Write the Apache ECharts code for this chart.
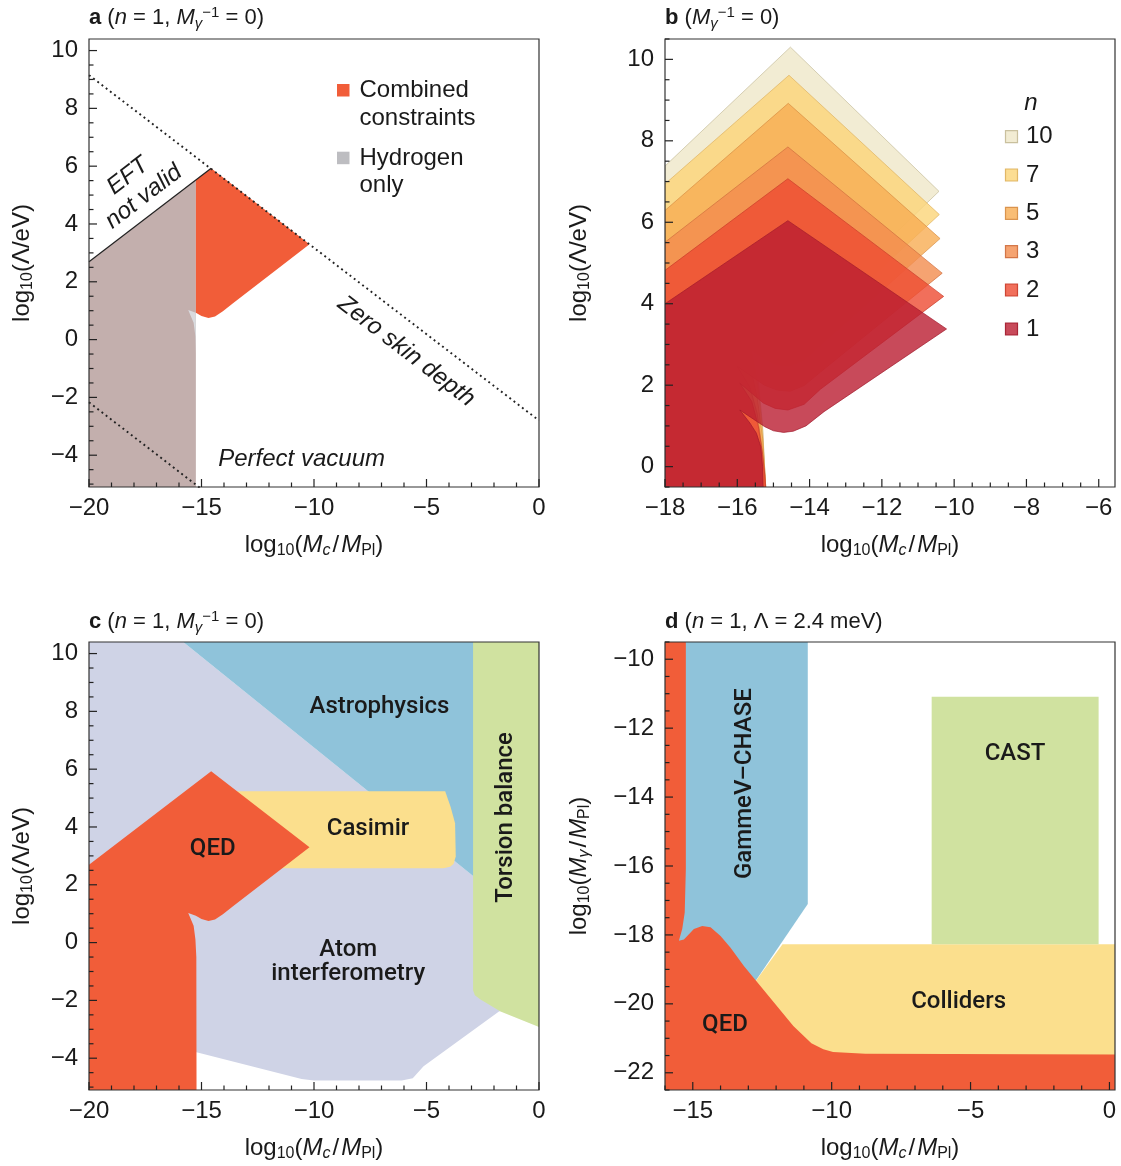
<!DOCTYPE html>
<html>
<head>
<meta charset="utf-8">
<script src="https://cdn.jsdelivr.net/npm/echarts@6/dist/echarts.min.js"></script>
<style>
  html, body { margin: 0; padding: 0; background: #ffffff; }
  #chart { width: 1121px; height: 1166px; }
</style>
</head>
<body>
<div id="chart"></div>
<script>
const FONT = '"Liberation Sans", Arial, Helvetica, sans-serif';
const LABEL_FONT = 'Roboto, "Liberation Sans", Arial, sans-serif';
const INK = '#1a1a1a';

// ---------- axis extents ----------
const aX = [-20, 0],      aY = [-5.1, 10.4];
const bX = [-18, -5.55],  bY = [-0.5, 10.5];
const cX = [-20, 0],      cY = [-5.1, 10.4];
const dX = [-16, 0.2],    dY = [-22.5, -9.5];

// ---------- labelled ticks ----------
const aXTicks = [-20, -15, -10, -5, 0];
const aYTicks = [-4, -2, 0, 2, 4, 6, 8, 10];
const bXTicks = [-18, -16, -14, -12, -10, -8, -6];
const bYTicks = [0, 2, 4, 6, 8, 10];
const cXTicks = [-20, -15, -10, -5, 0];
const cYTicks = [-4, -2, 0, 2, 4, 6, 8, 10];
const dXTicks = [-15, -10, -5, 0];
const dYTicks = [-22, -20, -18, -16, -14, -12, -10];
// spacing of the small unlabelled ticks
const aMinorStep = [1, 0.5], bMinorStep = [0.5, 0.5], cMinorStep = [1, 0.5], dMinorStep = [1, 0.5];

// ---------- panel a: hydrogen vs combined constraints ----------
const hydrogenOnly = [[-20, -5.3], [-20, 2.69], [-15.25, 5.53], [-15.25, -5.3]];
const combinedConstraints = [[-15.25, 5.53], [-14.57, 5.93], [-10.2, 3.3], [-13.6, 1.26], [-14.05, 0.98],
  [-14.4, 0.8], [-14.69, 0.75], [-15.0, 0.82], [-15.25, 0.93]];
const hydrogenCusp = [[-15.25, 0.93], [-15.59, 1.02], [-15.35, 0.58], [-15.27, 0.11], [-15.25, -0.5]];
const eftBoundary = [[-20, 2.69], [-14.57, 5.93]];
const skinDepthLine = [[-20, 9.15], [0, -2.8]];
const vacuumLine = [[-20, -2.17], [-15.0, -5.17]];

// ---------- panel b: excluded regions for several n ----------
const bLegendNames = ['10', '7', '5', '3', '2', '1'];
const regionN10 = [[-18, -0.7], [-18, 7.38], [-14.53, 10.30], [-10.42, 6.76], [-13.7, 3.95], [-14.15, 3.57],
  [-14.55, 3.42], [-14.9, 3.45], [-15.25, 3.6], [-16.0, 4.05], [-15.65, 3.4], [-15.45, 2.4], [-15.3, 1.0],
  [-15.24, -0.1], [-15.2, -0.7]];
const regionN7 = [[-18, -0.7], [-18, 6.94], [-14.57, 9.61], [-10.41, 6.19], [-13.7, 3.49], [-14.15, 3.13],
  [-14.55, 2.98], [-14.9, 3.01], [-15.25, 3.15], [-16.0, 3.6], [-15.65, 3.0], [-15.45, 2.1], [-15.3, 0.9],
  [-15.24, -0.1], [-15.2, -0.7]];
const regionN5 = [[-18, -0.7], [-18, 6.29], [-14.59, 8.92], [-10.39, 5.6], [-13.7, 2.98], [-14.15, 2.62],
  [-14.55, 2.47], [-14.9, 2.5], [-15.25, 2.65], [-16.0, 3.1], [-15.65, 2.5], [-15.45, 1.7], [-15.3, 0.7],
  [-15.24, -0.1], [-15.2, -0.7]];
const regionN3 = [[-18, -0.7], [-18, 5.51], [-14.6, 7.85], [-10.33, 4.75], [-13.7, 2.32], [-14.15, 1.99],
  [-14.54, 1.85], [-14.9, 1.88], [-15.25, 2.0], [-16.0, 2.46], [-15.65, 1.95], [-15.45, 1.3], [-15.32, 0.5],
  [-15.25, -0.1], [-15.2, -0.7]];
const regionN2 = [[-18, -0.7], [-18, 4.82], [-14.6, 7.07], [-10.29, 4.18], [-13.7, 1.9], [-14.15, 1.53],
  [-14.6, 1.39], [-14.95, 1.43], [-15.28, 1.56], [-15.93, 2.05], [-15.6, 1.6], [-15.42, 1.0], [-15.3, 0.3],
  [-15.24, -0.2], [-15.2, -0.7]];
const regionN1 = [[-18, -0.7], [-18, 4.0], [-14.6, 6.04], [-10.21, 3.38], [-13.6, 1.35], [-14.1, 1.0],
  [-14.45, 0.87], [-14.72, 0.84], [-15.0, 0.88], [-15.24, 0.98], [-15.93, 1.39], [-15.65, 1.07],
  [-15.47, 0.82], [-15.35, 0.49], [-15.3, 0.0], [-15.28, -0.7]];

// ---------- panel c: individual experiments ----------
const atomInterferometry = [[-20.2, 10.6], [-16.13, 10.6], [-2.8, 2.23], [-1.6, 1.5], [-1.6, -2.35],
  [-1.78, -2.38], [-5.13, -4.28], [-5.61, -4.69], [-6.1, -4.77], [-10.0, -4.77], [-10.55, -4.72],
  [-15.22, -3.79], [-20.2, -3.79]];
const astrophysics = [[-16.13, 10.6], [-2.5, 10.6], [-2.5, 2.04]];
const casimir = [[-14.5, 5.24], [-4.17, 5.24], [-3.93, 4.7], [-3.73, 4.13], [-3.7, 2.98], [-3.8, 2.72],
  [-3.95, 2.62], [-4.25, 2.57], [-14.5, 2.57]];
const qedC = [[-20.2, -5.3], [-20.2, 2.57], [-20, 2.69], [-14.57, 5.93], [-10.2, 3.3], [-13.6, 1.26],
  [-14.05, 0.98], [-14.4, 0.8], [-14.69, 0.75], [-15.0, 0.82], [-15.25, 0.93], [-15.59, 1.02],
  [-15.35, 0.58], [-15.27, 0.11], [-15.23, -0.5], [-15.22, -5.3]];
const torsionBalance = [[-2.93, 10.6], [0.2, 10.6], [0.2, -3.0], [0, -2.92], [-1.71, -2.38], [-2.6, -1.97],
  [-2.85, -1.82], [-2.93, -1.65]];

// ---------- panel d: photon coupling plane ----------
const gammevChase = [[-15.5, -9.3], [-10.86, -9.3], [-10.86, -17.1], [-12.74, -19.34], [-14.6, -19.0],
  [-15.5, -18.5]];
const colliders = [[-11.77, -18.27], [0.3, -18.27], [0.3, -21.6], [-13.2, -21.6], [-13.2, -19.85]];
const cast = [[-6.4, -11.09], [-0.39, -11.09], [-0.39, -18.27], [-6.4, -18.27]];
const qedD = [[-16.2, -9.3], [-15.25, -9.3], [-15.25, -16.1], [-15.29, -17.35], [-15.38, -17.83],
  [-15.5, -18.17], [-15.32, -18.13], [-14.96, -17.83], [-14.66, -17.74], [-14.36, -17.78], [-14.0, -18.03],
  [-13.64, -18.37], [-13.16, -18.9], [-12.67, -19.38], [-11.38, -20.64], [-10.73, -21.14], [-10.3, -21.32],
  [-9.95, -21.4], [-8.79, -21.45], [0.3, -21.47], [0.3, -22.7], [-16.2, -22.7]];

// ---------- in-plot annotations: [text, x, y] ----------
const aLabels = [['EFT\nnot valid', -17.92, 5.30], ['Zero skin depth', -5.9, -0.41], ['Perfect vacuum', -10.55, -4.13]];
const cLabels = [['Astrophysics', -7.09, 8.15], ['Casimir', -7.6, 3.93], ['QED', -14.5, 3.24],
  ['Atom\ninterferometry', -8.48, -0.67], ['Torsion balance', -1.46, 4.33]];
const dLabels = [['GammeV\u2013CHASE', -13.13, -13.61], ['CAST', -3.4, -12.75], ['Colliders', -5.43, -19.95],
  ['QED', -13.84, -20.62]];

// text styling for the annotations
const labelStyle = {
  'EFT\nnot valid': { rot: 0.655, italic: true, lh: 26, font: FONT },
  'Zero skin depth': { rot: -0.655, italic: true, font: FONT },
  'Perfect vacuum': { italic: true, font: FONT },
  'Torsion balance': { rot: Math.PI / 2 },
  'GammeV\u2013CHASE': { rot: Math.PI / 2 },
  'Atom\ninterferometry': { lh: 24 }
};

// ---------- colours ----------
const ORANGE = '#f15d39';
const HYDRO = '#c3afad';
const CUSP = '#d9dbdf';
const LAVENDER = '#cfd3e6';
const BLUE = '#8fc3da';
const YELLOW = '#fbdf8d';
const GREEN = '#d0e2a0';
const TICK = '#222222';
// panel b layers: base colour, drawn at 80 % opacity
const layerRGB = {
  '10': [239, 231, 200], '7': [251, 212, 120], '5': [247, 172, 82],
  '3': [243, 140, 77], '2': [237, 75, 50], '1': [186, 29, 49]
};
const layerEdge = {
  '10': [196, 186, 150], '7': [222, 176, 92], '5': [214, 140, 66],
  '3': [206, 108, 60], '2': [200, 58, 40], '1': [160, 24, 42]
};
const rgba = (c, a) => `rgba(${c[0]},${c[1]},${c[2]},${a})`;

// ---------- helpers ----------
const fmt = v => String(v).replace('-', '\u2212');

function minorValues(range, step, majors) {
  const out = [];
  const start = Math.ceil(range[0] / step - 1e-9) * step;
  for (let k = 0; start + k * step <= range[1] + 1e-9; k++) {
    const v = Math.round((start + k * step) * 1000) / 1000;
    if (!majors.some(m => Math.abs(m - v) < 1e-6)) out.push(v);
  }
  return out;
}

const RICH_AXIS = {
  t: { fontFamily: FONT, fontSize: 24, fontWeight: 'normal', color: INK, lineHeight: 28 },
  i: { fontFamily: FONT, fontSize: 24, fontWeight: 'normal', color: INK, fontStyle: 'italic', lineHeight: 28 },
  sl: { fontFamily: FONT, fontSize: 24, fontWeight: 'normal', color: INK, lineHeight: 28, padding: [0, 2, 0, 2] },
  s: { fontFamily: FONT, fontSize: 16, fontWeight: 'normal', color: INK, verticalAlign: 'bottom', lineHeight: 12 },
  is: { fontFamily: FONT, fontSize: 16, fontWeight: 'normal', color: INK, fontStyle: 'italic', verticalAlign: 'bottom', lineHeight: 12 }
};
const RICH_TITLE = {
  b: { fontFamily: FONT, fontSize: 22, fontWeight: 'bold', color: INK, lineHeight: 26 },
  t: { fontFamily: FONT, fontSize: 22, fontWeight: 'normal', color: INK, lineHeight: 26 },
  i: { fontFamily: FONT, fontSize: 22, fontWeight: 'normal', color: INK, fontStyle: 'italic', lineHeight: 26 },
  is: { fontFamily: FONT, fontSize: 15, fontWeight: 'normal', color: INK, fontStyle: 'italic', verticalAlign: 'bottom', lineHeight: 10 },
  sup: { fontFamily: FONT, fontSize: 15, fontWeight: 'normal', color: INK, verticalAlign: 'top', lineHeight: 10 }
};

const X_NAME = '{t|log}{s|10}{t|(}{i|M}{is|c}{sl|/}{i|M}{s|Pl}{t|)}';
const Y_NAME_LAMBDA = '{t|log}{s|10}{t|(\u039b/eV)}';
const Y_NAME_GAMMA = '{t|log}{s|10}{t|(}{i|M}{is|\u03b3}{sl|/}{i|M}{s|Pl}{t|)}';

const grids = [
  { left: 89, top: 39, width: 450, height: 448 },
  { left: 665, top: 39, width: 450, height: 448 },
  { left: 89, top: 642, width: 450, height: 448 },
  { left: 665, top: 642, width: 450, height: 448 }
];

function mainAxis(dir, gi, range, tickVals, name, gap) {
  return {
    type: 'value', gridIndex: gi, min: range[0], max: range[1],
    position: dir === 'x' ? 'bottom' : 'left',
    axisLine: { show: false, onZero: false }, splitLine: { show: false }, axisTick: { show: false },
    axisLabel: { show: true, customValues: tickVals.slice(), margin: dir === 'x' ? 9 : 11, formatter: fmt,
      fontFamily: FONT, fontSize: 24, color: INK },
    name: name, nameLocation: 'middle', nameGap: gap,
    nameTextStyle: { fontFamily: FONT, fontSize: 24, fontWeight: 'normal', color: INK, rich: RICH_AXIS }
  };
}

function area(idx, points, fill, z, stroke, lw) {
  return {
    type: 'custom', xAxisIndex: idx, yAxisIndex: idx, clip: true, silent: true, z: z,
    data: [[0, 0]],
    renderItem: (params, api) => ({
      type: 'polygon',
      shape: { points: points.map(p => api.coord(p)) },
      style: { fill: fill, stroke: stroke || null, lineWidth: lw || 0 }
    })
  };
}
function curve(idx, points, dashed, z) {
  return {
    type: 'line', xAxisIndex: idx, yAxisIndex: idx, data: points, symbol: 'none', silent: true, z: z,
    lineStyle: { color: '#222', width: dashed ? 1.9 : 1.2, type: dashed ? [1.9, 3.4] : 'solid' }
  };
}
function labels(idx, items) {
  return {
    type: 'custom', xAxisIndex: idx, yAxisIndex: idx, silent: true, z: 20, data: [[0, 0]],
    renderItem: (params, api) => ({
      type: 'group',
      children: items.map(([text, x, y]) => {
        const st = labelStyle[text] || {};
        const p = api.coord([x, y]);
        return {
          type: 'text', x: p[0], y: p[1], rotation: st.rot || 0,
          style: { text: text, fontFamily: st.font || LABEL_FONT, fontSize: 24,
            fontWeight: st.font ? 'normal' : 500, fontStyle: st.italic ? 'italic' : 'normal',
            fill: INK, align: 'center', verticalAlign: 'middle', lineHeight: st.lh || 28 }
        };
      })
    })
  };
}

// ---------- series ----------
const series = [];
// a
series.push(area(0, hydrogenOnly, HYDRO, 2));
series.push(area(0, combinedConstraints, ORANGE, 3));
series.push(area(0, hydrogenCusp, CUSP, 3));
series.push(curve(0, eftBoundary, false, 5));
series.push(curve(0, skinDepthLine, true, 5));
series.push(curve(0, vacuumLine, true, 5));
series.push(labels(0, aLabels));
// b  (largest n at the back)
const bRegions = { '10': regionN10, '7': regionN7, '5': regionN5, '3': regionN3, '2': regionN2, '1': regionN1 };
bLegendNames.forEach((n, k) => {
  series.push(area(1, bRegions[n], rgba(layerRGB[n], 0.8), 2 + k * 0.01, rgba(layerEdge[n], 0.75), 0.9));
});
// c
series.push(area(2, atomInterferometry, LAVENDER, 2));
series.push(area(2, astrophysics, BLUE, 2.1));
series.push(area(2, casimir, YELLOW, 2.2));
series.push(area(2, qedC, ORANGE, 2.3));
series.push(area(2, torsionBalance, GREEN, 2.4));
series.push(labels(2, cLabels));
// d
series.push(area(3, gammevChase, BLUE, 2));
series.push(area(3, colliders, YELLOW, 2.1));
series.push(area(3, cast, GREEN, 2.2));
series.push(area(3, qedD, ORANGE, 2.3));
series.push(labels(3, dLabels));

// ---------- frames, inward ticks and legends ----------
const graphics = grids.map(g => ({
  type: 'rect', silent: true, z: 100,
  shape: { x: g.left, y: g.top, width: g.width, height: g.height },
  style: { fill: null, stroke: '#333', lineWidth: 1.2 }
}));

// ticks follow the same linear value-to-pixel mapping as the panel's value axes
const tickPanels = [
  { x: aX, y: aY, xt: aXTicks, yt: aYTicks, step: aMinorStep },
  { x: bX, y: bY, xt: bXTicks, yt: bYTicks, step: bMinorStep },
  { x: cX, y: cY, xt: cXTicks, yt: cYTicks, step: cMinorStep },
  { x: dX, y: dY, xt: dXTicks, yt: dYTicks, step: dMinorStep }
];
const MAJOR_LEN = 8, MINOR_LEN = 4.5, TICK_W = 1.2;
tickPanels.forEach((pn, i) => {
  const g = grids[i];
  const px = v => g.left + (v - pn.x[0]) / (pn.x[1] - pn.x[0]) * g.width;
  const py = v => g.top + g.height - (v - pn.y[0]) / (pn.y[1] - pn.y[0]) * g.height;
  const bottom = g.top + g.height, left = g.left;
  const xTick = (v, len) => graphics.push({ type: 'rect', z: 101, silent: true,
    shape: { x: px(v) - TICK_W / 2, y: bottom - len, width: TICK_W, height: len }, style: { fill: TICK } });
  const yTick = (v, len) => graphics.push({ type: 'rect', z: 101, silent: true,
    shape: { x: left, y: py(v) - TICK_W / 2, width: len, height: TICK_W }, style: { fill: TICK } });
  pn.xt.forEach(v => xTick(v, MAJOR_LEN));
  minorValues(pn.x, pn.step[0], pn.xt).forEach(v => xTick(v, MINOR_LEN));
  pn.yt.forEach(v => yTick(v, MAJOR_LEN));
  minorValues(pn.y, pn.step[1], pn.yt).forEach(v => yTick(v, MINOR_LEN));
});

const txt = (x, y, text, extra) => ({
  type: 'text', x: x, y: y, z: 100, silent: true,
  style: Object.assign({ text: text, fontFamily: FONT, fontSize: 24, fill: INK, align: 'left', verticalAlign: 'middle' }, extra || {})
});
// legend of panel a
graphics.push({ type: 'rect', z: 100, silent: true, shape: { x: 337, y: 84, width: 12.5, height: 12.5 }, style: { fill: ORANGE } });
graphics.push(txt(359.5, 90.7, 'Combined'));
graphics.push(txt(359.5, 118, 'constraints'));
graphics.push({ type: 'rect', z: 100, silent: true, shape: { x: 337, y: 151.7, width: 12.5, height: 12.5 }, style: { fill: '#bdbdc1' } });
graphics.push(txt(359.5, 158.3, 'Hydrogen'));
graphics.push(txt(359.5, 185, 'only'));
// legend of panel b
graphics.push(txt(1031, 103, 'n', { fontStyle: 'italic', align: 'center' }));
const legendRows = [136.7, 175, 213.3, 251.7, 290, 329];
bLegendNames.forEach((n, k) => {
  const c = layerRGB[n];
  const w = c.map(v => Math.round(0.8 * v + 0.2 * 255));
  graphics.push({ type: 'rect', z: 100, silent: true,
    shape: { x: 1005.5, y: legendRows[k] - 6, width: 12, height: 12 },
    style: { fill: rgba(w, 1), stroke: rgba(layerEdge[n], 0.9), lineWidth: 1.2 } });
  graphics.push(txt(1026, legendRows[k], n));
});

const titleStyle = { fontFamily: FONT, fontSize: 22, fontWeight: 'normal', color: INK, rich: RICH_TITLE };
const option = {
  animation: false,
  backgroundColor: '#ffffff',
  title: [
    { left: 89, top: 5, padding: 0, text: '{b|a} {t|(}{i|n}{t| = 1, }{i|M}{is|\u03b3}{sup|\u22121}{t| = 0)}', textStyle: titleStyle },
    { left: 665, top: 5, padding: 0, text: '{b|b} {t|(}{i|M}{is|\u03b3}{sup|\u22121}{t| = 0)}', textStyle: titleStyle },
    { left: 89, top: 609, padding: 0, text: '{b|c} {t|(}{i|n}{t| = 1, }{i|M}{is|\u03b3}{sup|\u22121}{t| = 0)}', textStyle: titleStyle },
    { left: 665, top: 609, padding: 0, text: '{b|d} {t|(}{i|n}{t| = 1, \u039b = 2.4 meV)}', textStyle: titleStyle }
  ],
  grid: grids.map(g => Object.assign({ show: false, containLabel: false, outerBoundsMode: 'none' }, g)),
  xAxis: [
    mainAxis('x', 0, aX, aXTicks, X_NAME, 44),
    mainAxis('x', 1, bX, bXTicks, X_NAME, 44),
    mainAxis('x', 2, cX, cXTicks, X_NAME, 44),
    mainAxis('x', 3, dX, dXTicks, X_NAME, 44)
  ],
  yAxis: [
    mainAxis('y', 0, aY, aYTicks, Y_NAME_LAMBDA, 53),
    mainAxis('y', 1, bY, bYTicks, Y_NAME_LAMBDA, 72),
    mainAxis('y', 2, cY, cYTicks, Y_NAME_LAMBDA, 53),
    mainAxis('y', 3, dY, dYTicks, Y_NAME_GAMMA, 72)
  ],
  series: series,
  graphic: { elements: graphics }
};

const chart = echarts.init(document.getElementById('chart'), null, { renderer: 'canvas' });
chart.setOption(option);
</script>
</body>
</html>
